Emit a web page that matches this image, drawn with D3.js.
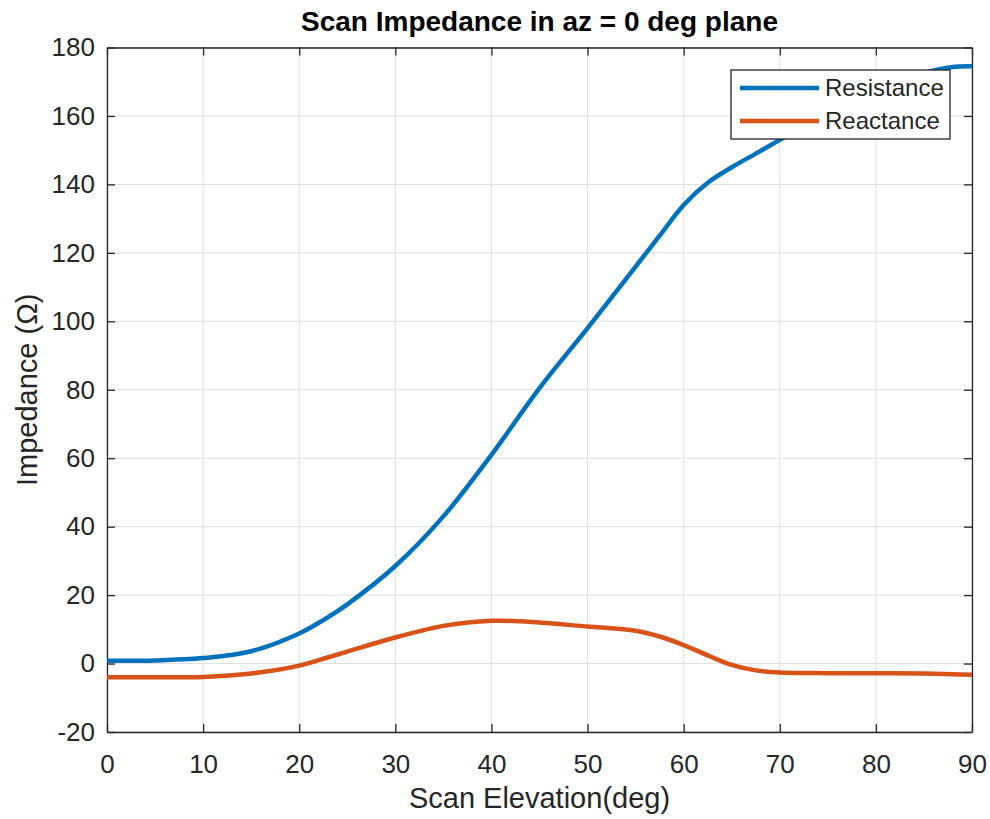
<!DOCTYPE html>
<html>
<head>
<meta charset="utf-8">
<script src="https://cdn.jsdelivr.net/npm/d3@7"></script>
<style>
  body { margin: 0; background: #fff; }
  text { font-family: "Liberation Sans", Arial, sans-serif; fill: #262626; }
</style>
</head>
<body>
<div id="chart"></div>
<script>
// scan elevation (deg) and the two impedance curves
let elevation  = [0, 5, 10, 15, 20, 22.5, 25, 30, 35, 40, 45, 50, 55, 57.5, 60, 62.5, 65, 67.5, 70, 75, 80, 85, 88, 90];
let resistance = [0.8, 0.9, 1.6, 3.6, 8.8, 12.7, 17.3, 28.5, 43, 61, 80.5, 98, 116, 125, 134, 140.5, 145, 149, 153, 161, 167.5, 172.5, 174.3, 174.5];
let reactance  = [-4.0, -4.0, -3.9, -2.9, -0.6, 1.4, 3.5, 7.6, 11, 12.5, 12.0, 10.8, 9.6, 7.9, 5.4, 2.4, -0.4, -2.0, -2.6, -2.8, -2.8, -2.9, -3.1, -3.3];

let seriesNames  = ["Resistance", "Reactance"];
let seriesColors = ["#0072BD", "#D95319"];
let xTicks = [0, 10, 20, 30, 40, 50, 60, 70, 80, 90];
let yTicks = [-20, 0, 20, 40, 60, 80, 100, 120, 140, 160, 180];

let width = 990, height = 819;
let margin = {left: 107, right: 18, top: 47.5, bottom: 87};
let pw = width - margin.left - margin.right;
let ph = height - margin.top - margin.bottom;

let svg = d3.select("#chart").append("svg")
  .attr("width", width)
  .attr("height", height);

let g = svg.append("g")
  .attr("transform", `translate(${margin.left},${margin.top})`);

let x = d3.scaleLinear().domain([0, 90]).range([0, pw]);
let y = d3.scaleLinear().domain([-20, 180]).range([ph, 0]);

// grid
g.append("g").selectAll("line").data(xTicks).enter().append("line")
  .attr("x1", d => x(d)).attr("x2", d => x(d))
  .attr("y1", 0).attr("y2", ph)
  .style("stroke", "#dfdfdf").style("stroke-width", 1);
g.append("g").selectAll("line").data(yTicks).enter().append("line")
  .attr("x1", 0).attr("x2", pw)
  .attr("y1", d => y(d)).attr("y2", d => y(d))
  .style("stroke", "#dfdfdf").style("stroke-width", 1);

// axes (ticks inside, box on)
let tickLen = 8;
let fmt = d => String(d);
g.append("g").attr("transform", `translate(0,${ph})`)
  .call(d3.axisBottom(x).tickValues(xTicks).tickFormat(fmt).tickSizeInner(-tickLen).tickSizeOuter(0).tickPadding(23));
g.append("g")
  .call(d3.axisLeft(y).tickValues(yTicks).tickFormat(fmt).tickSizeInner(-tickLen).tickSizeOuter(0).tickPadding(12));
g.append("g")
  .call(d3.axisTop(x).tickValues(xTicks).tickSizeInner(-tickLen).tickSizeOuter(0).tickFormat(""));
g.append("g").attr("transform", `translate(${pw},0)`)
  .call(d3.axisRight(y).tickValues(yTicks).tickSizeInner(-tickLen).tickSizeOuter(0).tickFormat(""));

g.selectAll(".domain").style("stroke", "#262626").style("stroke-width", 1.3);
g.selectAll(".tick line").style("stroke", "#262626").style("stroke-width", 1.3);
g.selectAll(".tick text").style("font-size", "26px").style("fill", "#262626")
  .style("font-family", "'Liberation Sans', Arial, sans-serif");

// lines
let lineData = [resistance, reactance];
let line = d3.line()
  .x((d, i) => x(elevation[i]))
  .y(d => y(d))
  .curve(d3.curveCatmullRom.alpha(0.5));

g.selectAll(".series").data(lineData).enter().append("path")
  .attr("class", "series")
  .attr("d", d => line(d))
  .style("fill", "none")
  .style("stroke", (d, i) => seriesColors[i])
  .style("stroke-width", 4.5)
  .style("stroke-linejoin", "round");

// legend
let lg = svg.append("g").attr("transform", "translate(731,70)");
lg.append("rect")
  .attr("width", 219).attr("height", 69)
  .style("fill", "#fff").style("stroke", "#262626").style("stroke-width", 1.3);
let items = lg.selectAll(".item").data(seriesNames).enter().append("g")
  .attr("transform", (d, i) => `translate(0,${18 + i * 33})`);
items.append("line")
  .attr("x1", 9).attr("x2", 88)
  .style("stroke", (d, i) => seriesColors[i]).style("stroke-width", 4.5);
items.append("text")
  .attr("x", 94).attr("dy", "0.35em")
  .style("font-size", "24px")
  .text(d => d);

// title and labels
svg.append("text")
  .attr("x", margin.left + pw / 2).attr("y", 31)
  .attr("text-anchor", "middle")
  .style("font-size", "28px").style("font-weight", "bold")
  .style("fill", "#000")
  .text("Scan Impedance in az = 0 deg plane");

svg.append("text")
  .attr("x", margin.left + pw / 2).attr("y", 808)
  .attr("text-anchor", "middle")
  .style("font-size", "29px")
  .text("Scan Elevation(deg)");

svg.append("text")
  .attr("transform", `translate(37,${margin.top + ph / 2}) rotate(-90)`)
  .attr("text-anchor", "middle")
  .style("font-size", "29px")
  .text("Impedance (Ω)");
</script>
</body>
</html>
